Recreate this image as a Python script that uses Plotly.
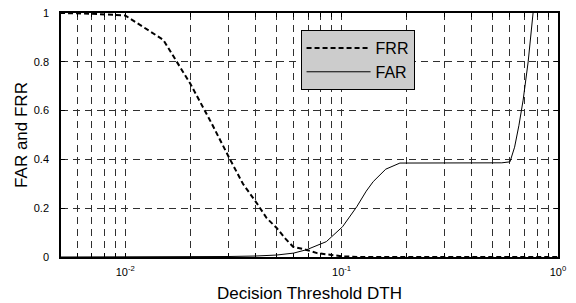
import plotly.graph_objects as go

# FRR curve (dashed, thick)
frr_x = [0.005, 0.007, 0.01, 0.015, 0.02, 0.025, 0.0305, 0.035, 0.0406, 0.045, 0.05, 0.055, 0.0597, 0.069, 0.077, 0.088, 0.1, 0.12, 1.0]
frr_y = [1.0, 0.997, 0.99, 0.89, 0.71, 0.55, 0.40, 0.30, 0.22, 0.16, 0.12, 0.075, 0.042, 0.029, 0.016, 0.008, 0.003, 0.0, 0.0]

# FAR curve (solid, thin)
far_x = [0.005, 0.01, 0.02, 0.03, 0.04, 0.05, 0.06, 0.069, 0.085, 0.101, 0.1175, 0.13, 0.14, 0.16, 0.186, 0.25, 0.4, 0.55, 0.6, 0.63, 0.66, 0.69, 0.728, 0.767]
far_y = [0.0, 0.0, 0.001, 0.002, 0.004, 0.008, 0.016, 0.03, 0.063, 0.124, 0.206, 0.27, 0.309, 0.36, 0.385, 0.386, 0.386, 0.386, 0.39, 0.45, 0.54, 0.643, 0.8, 1.0]

x_major = [0.01, 0.1, 1.0]
x_major_labels = ["10<sup>-2</sup>", "10<sup>-1</sup>", "10<sup>0</sup>"]
x_minor = [0.006, 0.007, 0.008, 0.009, 0.02, 0.03, 0.04, 0.05, 0.06, 0.07, 0.08, 0.09,
           0.2, 0.3, 0.4, 0.5, 0.6, 0.7, 0.8, 0.9]
y_ticks = [0, 0.2, 0.4, 0.6, 0.8, 1]
y_labels = ["0", "0.2", "0.4", "0.6", "0.8", "1"]

FONT = "Liberation Sans, Arial, sans-serif"
GRID = "#303030"

fig = go.Figure()
fig.add_trace(go.Scatter(x=frr_x, y=frr_y, mode="lines", name="FRR",
                         line=dict(color="black", width=2, dash="5px,3px")))
fig.add_trace(go.Scatter(x=far_x, y=far_y, mode="lines", name="FAR",
                         line=dict(color="black", width=1)))

# page body has an 8px margin, so the figure is 8px smaller than the window
fig.update_layout(
    width=568, height=295,
    margin=dict(l=53, r=18, t=5, b=46),
    paper_bgcolor="white", plot_bgcolor="white",
    font=dict(family=FONT, size=11, color="black"),
    legend=dict(x=0.482, y=0.93, xanchor="left", yanchor="top",
                bgcolor="#cccccc", bordercolor="black", borderwidth=1,
                itemwidth=64,
                font=dict(family=FONT, size=16, color="black")),
    showlegend=True,
)
fig.update_xaxes(
    type="log", range=[-2.2967, 0], automargin=False,
    tickmode="array", tickvals=x_major, ticktext=x_major_labels,
    showgrid=True, gridcolor=GRID, gridwidth=1, griddash="7px,5px",
    ticks="inside", ticklen=4, tickcolor="black", ticklabelstandoff=4,
    ticklabeloverflow="allow",
    minor=dict(tickmode="array", tickvals=x_minor, showgrid=True, gridcolor=GRID,
               gridwidth=1, griddash="7px,5px", ticks="inside", ticklen=4, tickcolor="black"),
    showline=True, linecolor="black", linewidth=1.5, mirror="ticks",
    zeroline=False,
    title=dict(text="Decision Threshold DTH", font=dict(size=17), standoff=10),
)
fig.update_yaxes(
    range=[0, 1], automargin=False,
    tickmode="array", tickvals=y_ticks, ticktext=y_labels,
    showgrid=True, gridcolor=GRID, gridwidth=1, griddash="7px,5px",
    ticks="inside", ticklen=4, tickcolor="black", ticklabelstandoff=8,
    ticklabeloverflow="allow",
    showline=True, linecolor="black", linewidth=1.5, mirror="ticks",
    zeroline=False,
    title=dict(text="FAR and FRR", font=dict(size=17), standoff=2),
)
fig.write_html("out.html")
